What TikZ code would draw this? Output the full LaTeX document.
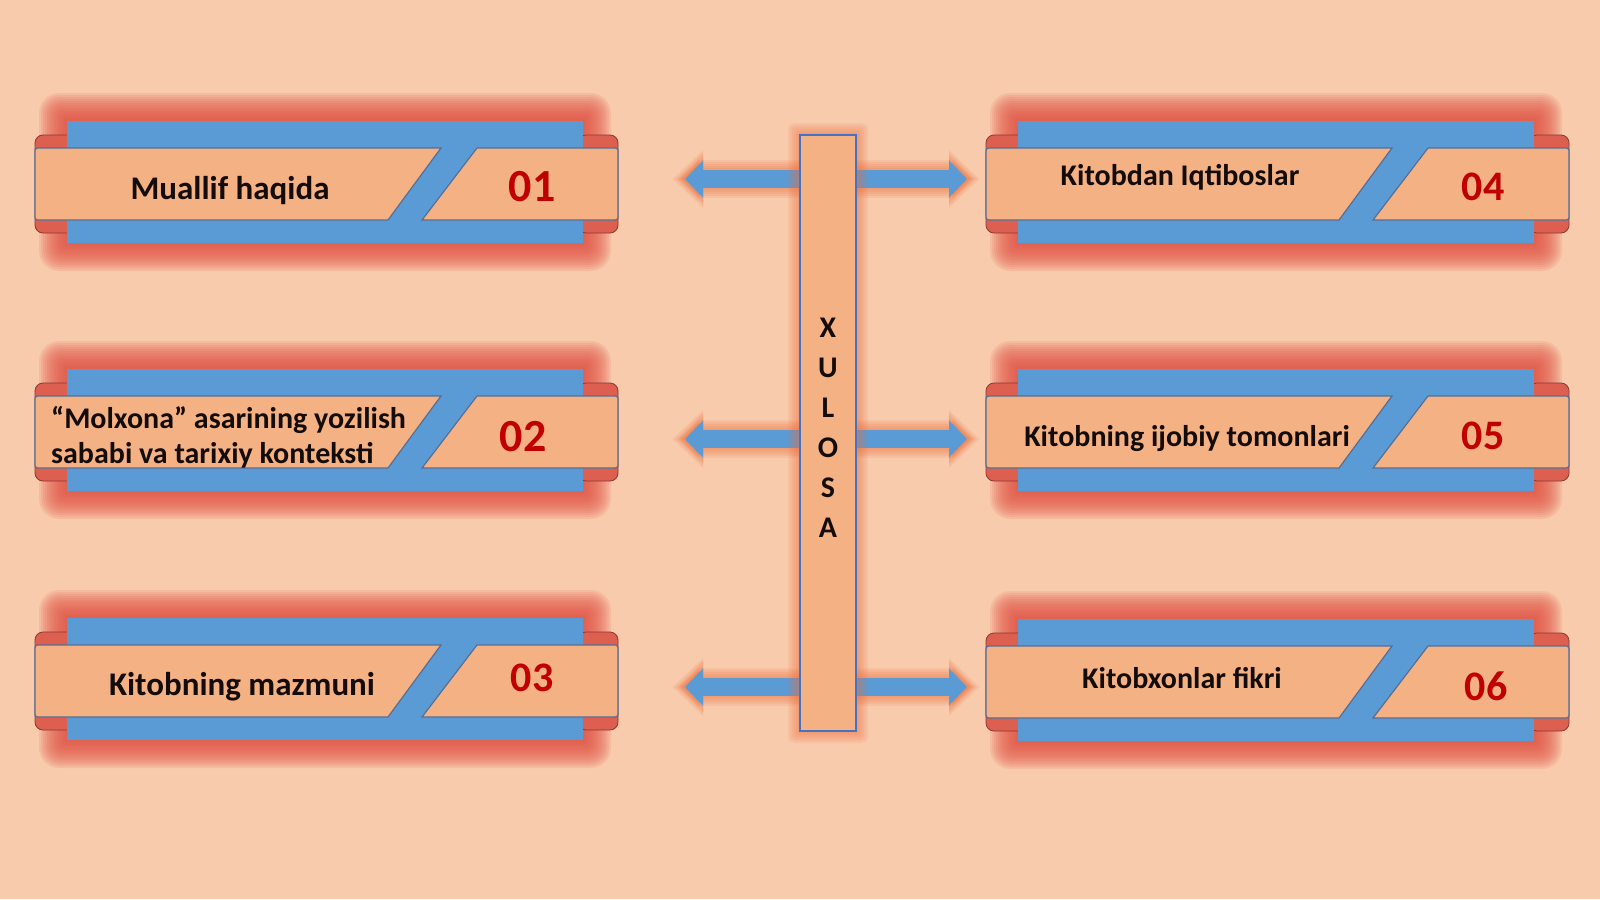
\documentclass[tikz,border=0pt]{standalone}
\usepackage{fontspec}
\setmainfont{Carlito}
\usetikzlibrary{arrows.meta}
\definecolor{bg}{RGB}{248,203,173}
\definecolor{bandfill}{RGB}{244,177,131}
\definecolor{ribblue}{RGB}{91,155,213}
\definecolor{glowred}{RGB}{226,84,70}
\definecolor{capred}{RGB}{220,95,80}
\definecolor{capline}{RGB}{140,55,50}
\definecolor{numred}{RGB}{192,0,0}
\definecolor{txt}{RGB}{20,12,10}
\definecolor{bandline}{RGB}{85,110,150}
\definecolor{barline}{RGB}{68,114,196}
\definecolor{orglow}{RGB}{237,110,60}
\newcommand\myribbon[2]{%
\begin{scope}[shift={(#1,#2)}]
\foreach \e in {0,2,...,28}{\pgfmathsetmacro\rc{\e*0.7+0.5}\fill[glowred,opacity=0.13,rounded corners=\rc pt] ({32-\e},{-63-\e}) rectangle ({548+\e},{59+\e});}
\draw[capsty] (0,-49) rectangle (40,49);
\draw[capsty] (543,-49) rectangle (583,49);
\fill[ribblue] (32,-63) rectangle (548,59);
\draw[bandsty] (406,-36) -- (6,-36) .. controls (0,-36) .. (0,-30) -- (0,30) .. controls (0,36) .. (6,36) -- (353,36) -- cycle;
\draw[bandsty] (442,-36) -- (577,-36) .. controls (583,-36) .. (583,-30) -- (583,30) .. controls (583,36) .. (577,36) -- (387,36) -- cycle;
\end{scope}}
\begin{document}
\begin{tikzpicture}[x=1pt,y=-1pt,
  capsty/.style={draw=capline,fill=capred,line width=0.8pt,rounded corners=8pt},
  bandsty/.style={fill=bandfill,draw=bandline,line width=1.2pt},
  lbl/.style={font=\bfseries\fontsize{33}{36}\selectfont,text=txt,inner sep=0pt,anchor=base},
  lbls/.style={font=\bfseries\fontsize{30}{35}\selectfont,text=txt,inner sep=0pt,anchor=base},
  numbig/.style={font=\bfseries\fontsize{46}{50}\selectfont,text=numred,inner sep=0pt,anchor=base},
  num/.style={font=\bfseries\fontsize{42}{46}\selectfont,text=numred,inner sep=0pt,anchor=base},
  arrowsty/.style={ribblue,line width=18pt,{Triangle[length=18pt,width=36pt]}-{Triangle[length=18pt,width=36pt]}},
  barsty/.style={draw=barline,line width=2pt,fill=bandfill,minimum width=56pt,minimum height=596pt,inner sep=0pt,align=center,text=txt,text depth=10pt,font=\bfseries\fontsize{30}{40}\selectfont}
]
\fill[bg] (0,0) rectangle (1600,899);
\useasboundingbox (0,0) rectangle (1600,899);
% ribbons
\myribbon{35}{184}
\myribbon{35}{432}
\myribbon{35}{681}
\myribbon{986}{184}
\myribbon{986}{432}
\myribbon{986}{682}
% texts
\node[lbl] (t1) at (230,199) {Muallif haqida};
\node[numbig] (n1) at (532,201) {01};
\node[lbls,anchor=base west,align=left] (t2) at (51,463) {“Molxona” asarining yozilish\\sababi va tarixiy konteksti};
\node[numbig] (n2) at (523,451) {02};
\node[lbl] (t3) at (242,695) {Kitobning mazmuni};
\node[num] (n3) at (532,691) {03};
\node[lbls] (t4) at (1180,185) {Kitobdan Iqtiboslar};
\node[num] (n4) at (1483,200) {04};
\node[lbls] (t5) at (1187,446) {Kitobning ijobiy tomonlari};
\node[num] (n5) at (1483,449) {05};
\node[lbls] (t6) at (1182,688) {Kitobxonlar fikri};
\node[num] (n6) at (1486,700) {06};
% arrows
\foreach \r/\y in {1/179,2/439,3/687}{
  \coordinate (L\r) at (685,\y);
  \coordinate (R\r) at (967,\y);
  \foreach \k in {1,...,5}{
    \pgfmathsetmacro\lw{18+4*\k}\pgfmathsetmacro\tl{18+2.5*\k}\pgfmathsetmacro\tw{36+4*\k}\pgfmathsetmacro\sh{-2.5*\k}
    \draw[orglow,opacity=0.12,line width=\lw pt,{Triangle[length=\tl pt,width=\tw pt]}-{Triangle[length=\tl pt,width=\tw pt]},shorten <=\sh pt,shorten >=\sh pt] (L\r) -- (R\r);
  }
  \draw[arrowsty] (L\r) -- (R\r);
}
% bar glow
\foreach \k in {1,...,6}{\fill[orglow,opacity=0.1,rounded corners=\k pt] ({800-2*\k},{135-2*\k}) rectangle ({856+2*\k},{731+2*\k});}
\node[barsty] (xulosa) at (828,433) {X\\U\\L\\O\\S\\A};
\end{tikzpicture}
\end{document}
